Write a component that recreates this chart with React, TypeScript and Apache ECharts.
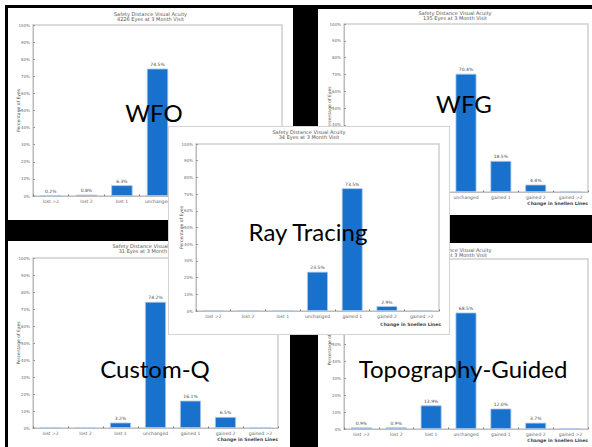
import React, { useEffect, useRef } from "react";
import * as echarts from "echarts";

const categories = ["lost >2", "lost 2", "lost 1", "unchanged", "gained 1", "gained 2", "gained >2"];

const wfoValues = [0.2, 0.8, 6.3, 74.5, 15.4, 2.3, 0.5];
const wfgValues = [0.0, 0.7, 5.9, 70.4, 18.5, 4.4, 0.0];
const rayValues = [0, 0, 0, 23.5, 73.5, 2.9, 0];
const customQValues = [0, 0, 3.2, 74.2, 16.1, 6.5, 0];
const topoValues = [0.9, 0.9, 13.9, 68.5, 12.0, 3.7, 0];

const wfoEyes = "4226";
const wfgEyes = "135";
const rayEyes = "34";
const customQEyes = "31";
const topoEyes = "108";

const chartTitle = "Safety Distance Visual Acuity";
const yName = "Percentage of Eyes";
const xName = "Change in Snellen Lines";

type Spec = {
  label: string;
  eyes: string;
  values: number[];
  box: [number, number, number, number];
  grid: [number, number, number, number];
  titleTop: number;
  labelPos: [number, number];
  z: number;
  border?: boolean;
};

const specs: Spec[] = [
  { label: "WFO", eyes: wfoEyes, values: wfoValues, box: [8, 8, 285, 212], grid: [25, 11, 17, 24], titleTop: 3, labelPos: [146, 104], z: 1 },
  { label: "WFG", eyes: wfgEyes, values: wfgValues, box: [318, 9, 274, 206], grid: [26, 4, 15, 23], titleTop: 1, labelPos: [146, 94], z: 1 },
  { label: "Custom-Q", eyes: customQEyes, values: customQValues, box: [8, 241, 282, 206], grid: [25, 12, 17, 19], titleTop: 2, labelPos: [147, 127], z: 1 },
  { label: "Topography-Guided", eyes: topoEyes, values: topoValues, box: [318, 243, 274, 204], grid: [26, 4, 16, 18], titleTop: 4, labelPos: [145, 125], z: 1 },
  { label: "Ray Tracing", eyes: rayEyes, values: rayValues, box: [168, 126, 282, 209], grid: [27, 10, 17, 23], titleTop: 2, labelPos: [139, 104], z: 5, border: true },
];

const smallFont = "DejaVu Sans";

function Panel({ spec }: { spec: Spec }) {
  const ref = useRef<HTMLDivElement>(null);
  useEffect(() => {
    if (!ref.current) return;
    const chart = echarts.init(ref.current, null, { renderer: "svg" });
    const [gl, gr, gt, gb] = spec.grid;
    const w = spec.box[2];
    const h = spec.box[3];
    chart.setOption({
      animation: false,
      backgroundColor: "#ffffff",
      title: {
        text: `${chartTitle}\n${spec.eyes} Eyes at 3 Month Visit`,
        left: "center",
        top: spec.titleTop,
        padding: 0,
        textStyle: { fontSize: 5, lineHeight: 5, color: "#555", fontWeight: "normal", fontFamily: smallFont },
      },
      grid: {
        left: gl, right: gr, top: gt, bottom: gb,
        show: true, borderColor: "#cfcfcf", borderWidth: 1.5, backgroundColor: "#fff",
        containLabel: false, outerBoundsMode: "none",
      },
      xAxis: {
        type: "category",
        data: categories,
        axisLine: { show: true, lineStyle: { color: "#bdbdbd", width: 1 } },
        axisTick: { show: true, inside: true, length: 1.5, lineStyle: { color: "#777" } },
        axisLabel: { fontSize: 4.5, color: "#666", margin: 3, interval: 0, fontFamily: smallFont },
      },
      yAxis: {
        type: "value",
        min: 0,
        max: 100,
        interval: 10,
        name: yName,
        nameLocation: "middle",
        nameGap: 12,
        nameMoveOverlap: false,
        nameTextStyle: { fontSize: 4.5, color: "#555", fontFamily: smallFont },
        axisLine: { show: true, lineStyle: { color: "#bdbdbd" } },
        axisTick: { show: true, inside: true, length: 2, lineStyle: { color: "#999" } },
        splitLine: { show: false },
        axisLabel: { formatter: "{value}%", fontSize: 4, color: "#666", margin: 3, fontFamily: smallFont },
      },
      series: [
        {
          type: "bar",
          data: spec.values,
          barWidth: "60%",
          itemStyle: { color: "#1871cd", borderColor: "#a9c6e8", borderWidth: 0.8 },
          label: {
            show: true,
            position: "top",
            distance: 1.5,
            fontSize: 4.5,
            color: "#444",
            fontFamily: smallFont,
            formatter: (p: any) => (p.value > 0 ? Number(p.value).toFixed(1) + "%" : ""),
          },
        },
      ],
      graphic: [
        {
          type: "text",
          x: w - gr,
          y: h - gb + 11,
          z: 50,
          style: { text: xName, fontSize: 4.5, fontWeight: "bold", fill: "#444", align: "right", verticalAlign: "middle", fontFamily: smallFont },
        },
        {
          type: "text",
          x: spec.labelPos[0],
          y: spec.labelPos[1],
          z: 100,
          style: { text: spec.label, fontSize: 24, fill: "#000", align: "center", verticalAlign: "middle", fontFamily: "Lato" },
        },
      ],
    });
    return () => chart.dispose();
  }, [spec]);
  const [x, y, w, h] = spec.box;
  return (
    <div
      style={{
        position: "absolute",
        left: x,
        top: y,
        width: w,
        height: h,
        background: "#fff",
        zIndex: spec.z,
        boxSizing: "border-box",
        border: spec.border ? "1px solid #d4d4d4" : "none",
        overflow: "hidden",
      }}
    >
      <div ref={ref} style={{ width: "100%", height: "100%" }} />
    </div>
  );
}

export default function App() {
  return (
    <div style={{ position: "fixed", left: 0, top: 0, width: 592, height: 447, background: "#fff", overflow: "hidden" }}>
      <div style={{ position: "absolute", left: 5, top: 5, width: 587, height: 442, background: "#000" }} />
      {specs.map((s) => (
        <Panel key={s.label} spec={s} />
      ))}
    </div>
  );
}
